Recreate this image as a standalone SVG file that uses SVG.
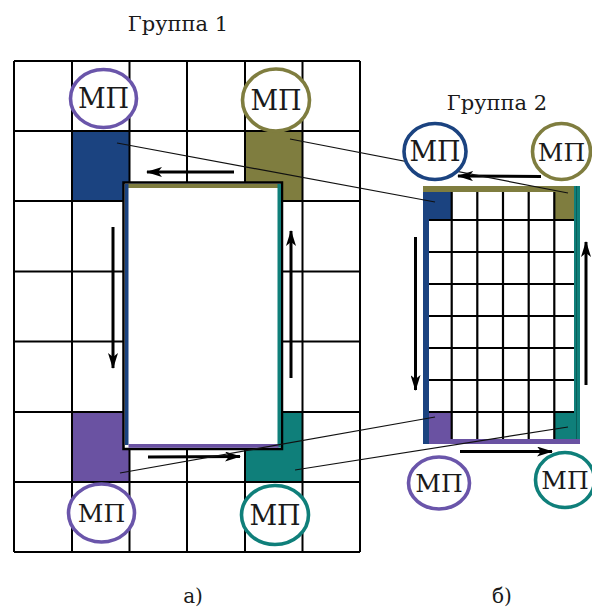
<svg xmlns="http://www.w3.org/2000/svg" width="592" height="610" viewBox="0 0 592 610">
  <style>
    .grid { stroke: #000; stroke-width: 2; fill: none; }
    .grid2 { stroke: #000; stroke-width: 2.2; fill: none; }
    .blue { fill: #1b4380; }
    .olive { fill: #7f7d3f; }
    .purple { fill: #6a52a2; }
    .teal { fill: #0f7f7a; }
    .mp { fill: #fff; stroke-width: 3.6; }
    text { fill: #1a1a1a; text-anchor: middle; }
    .flow { stroke: #000; stroke-width: 3; fill: none; marker-end: url(#ah); }
    .link { stroke: #111; stroke-width: 1.2; fill: none; }
  </style>
  <defs>
    <marker id="ah" viewBox="0 0 16 10" refX="15" refY="5" markerWidth="16" markerHeight="10" markerUnits="userSpaceOnUse" orient="auto">
      <path d="M0,0 L16,5 L0,10 L4,5 Z" fill="#000"/>
    </marker>
  </defs>

  <rect width="592" height="610" fill="#fff"/>

  <!-- Titles and captions -->
  <g font-family="DejaVu Serif, serif">
    <text x="178" y="31" font-size="21">Группа 1</text>
    <text x="497" y="110" font-size="21">Группа 2</text>
    <text x="193" y="603" font-size="20">а)</text>
    <text x="502" y="603" font-size="20">б)</text>
  </g>

  <!-- Group 1: coarse grid -->
  <g id="group1-grid">
    <rect class="blue" x="72" y="131" width="57.5" height="70"/>
    <rect class="olive" x="245" y="131" width="57.5" height="70"/>
    <rect class="purple" x="72" y="412" width="57.5" height="70"/>
    <rect class="teal" x="245" y="412" width="57.5" height="70"/>
    <path class="grid" d="M14,61 V552 M72,61 V552 M129.5,61 V552 M187,61 V552 M245,61 V552 M302.5,61 V552 M360,61 V552
                          M14,61 H360 M14,131 H360 M14,201 H360 M14,271.5 H360 M14,341.5 H360 M14,412 H360 M14,482 H360 M14,552 H360"/>
  </g>

  <!-- Group 1: zone framed by the border strips -->
  <g id="group1-zone">
    <rect x="123.5" y="182.5" width="158.5" height="266.5" fill="#fff" stroke="#000" stroke-width="2.5"/>
    <rect class="olive" x="125" y="184" width="153" height="4"/>
    <rect class="blue" x="125" y="184" width="3.5" height="261"/>
    <rect class="teal" x="277.5" y="184" width="3.5" height="263.5"/>
    <rect class="purple" x="128.5" y="444" width="150" height="3.8"/>
  </g>

  <!-- Group 2: fine grid -->
  <g id="group2-grid">
    <rect x="423" y="186" width="157" height="258" fill="#fff"/>
    <rect class="blue" x="426" y="188" width="25.7" height="32"/>
    <rect class="olive" x="554.3" y="188" width="25.7" height="32"/>
    <rect class="purple" x="426" y="412" width="25.7" height="32"/>
    <rect class="teal" x="554.3" y="412" width="25.7" height="32"/>
    <path class="grid2" d="M451.7,192 V439 M477.3,192 V439 M503,192 V439 M528.7,192 V439 M554.3,192 V439
                           M429,220 H574 M429,252 H574 M429,284 H574 M429,316 H574 M429,348 H574 M429,380 H574 M429,412 H574"/>
    <rect class="blue" x="423" y="186" width="6" height="258"/>
    <rect class="teal" x="574" y="186" width="6" height="253"/>
    <line x1="576.5" y1="186" x2="576.5" y2="439" stroke="#0a5f5a" stroke-width="1"/>
    <rect class="olive" x="423" y="186" width="151" height="6"/>
    <rect class="purple" x="429" y="439" width="151" height="5"/>
  </g>

  <!-- Connectors: motion arrows and links between the groups -->
  <g id="connectors">
    <line class="flow" x1="234" y1="172" x2="147" y2="172"/>
    <line class="flow" x1="113" y1="227" x2="113" y2="368"/>
    <line class="flow" x1="291" y1="378" x2="291" y2="231"/>
    <line class="flow" x1="148" y1="457" x2="240" y2="456.5"/>

    <line class="flow" x1="541" y1="176.5" x2="458" y2="176"/>
    <line class="flow" x1="415.5" y1="237" x2="415.5" y2="390"/>
    <line class="flow" x1="586" y1="385" x2="586" y2="242"/>
    <line class="flow" x1="460" y1="451.5" x2="552" y2="451.5"/>

    <line class="link" x1="117" y1="143" x2="435" y2="202"/>
    <line class="link" x1="290" y1="139" x2="568" y2="193"/>
    <line class="link" x1="120" y1="473" x2="435" y2="417"/>
    <line class="link" x1="295" y1="470" x2="568" y2="427"/>
  </g>

  <!-- МП markers -->
  <g font-family="DejaVu Serif, serif" font-size="27">
    <g id="mp-g1-top-left">
      <ellipse class="mp" cx="103.5" cy="98.5" rx="33" ry="29" stroke="#6a55aa"/>
      <text x="103.5" y="108">МП</text>
    </g>
    <g id="mp-g1-top-right">
      <ellipse class="mp" cx="276" cy="100" rx="33.5" ry="31" stroke="#7f7d3f"/>
      <text x="276" y="109.5">МП</text>
    </g>
    <g id="mp-g1-bottom-left">
      <ellipse class="mp" cx="101.5" cy="513" rx="33" ry="29" stroke="#6a55aa"/>
      <text x="101.5" y="522" font-size="25">МП</text>
    </g>
    <g id="mp-g1-bottom-right">
      <ellipse class="mp" cx="275" cy="515" rx="33.5" ry="29.5" stroke="#0f7f7a"/>
      <text x="275" y="524.5">МП</text>
    </g>
    <g id="mp-g2-top-left">
      <ellipse class="mp" cx="435" cy="151.5" rx="31" ry="28" stroke="#1b4380"/>
      <text x="435" y="161">МП</text>
    </g>
    <g id="mp-g2-top-right">
      <ellipse class="mp" cx="561.5" cy="151.5" rx="29" ry="28" stroke="#7f7d3f"/>
      <text x="561.5" y="161" font-size="25">МП</text>
    </g>
    <g id="mp-g2-bottom-left">
      <ellipse class="mp" cx="439" cy="483" rx="30.5" ry="26" stroke="#6a55aa"/>
      <text x="439" y="492" font-size="25">МП</text>
    </g>
    <g id="mp-g2-bottom-right">
      <ellipse class="mp" cx="565" cy="480" rx="29.5" ry="27.5" stroke="#0f7f7a"/>
      <text x="565" y="489" font-size="25">МП</text>
    </g>
  </g>
</svg>
